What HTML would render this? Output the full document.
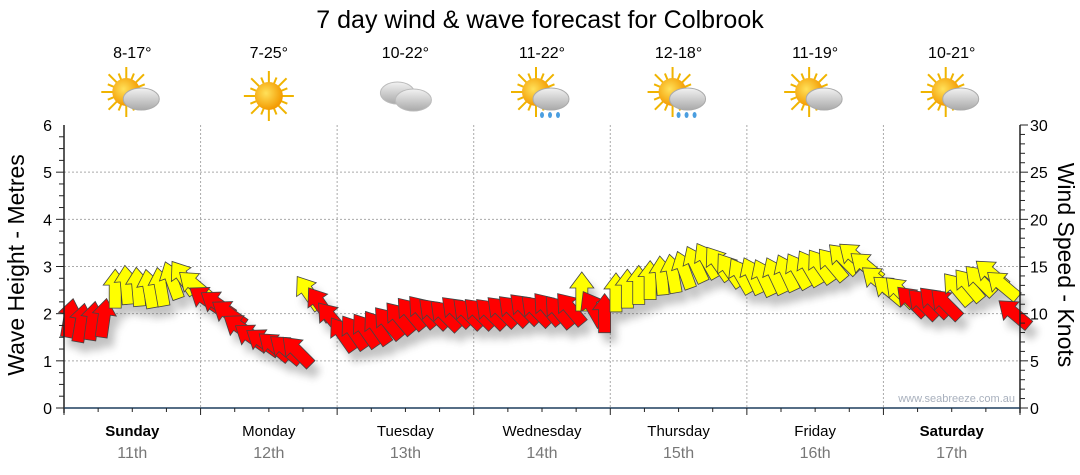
<!DOCTYPE html>
<html><head><meta charset="utf-8"><style>
body{margin:0;background:#fff;}
svg{display:block;font-family:"Liberation Sans",sans-serif;}
</style></head><body>
<svg id="c" width="1080" height="475" viewBox="0 0 1080 475">
<defs>
<filter id="sh" x="-50%" y="-50%" width="200%" height="200%"><feGaussianBlur stdDeviation="4"/></filter>
<radialGradient id="sun" cx="40%" cy="40%" r="60%"><stop offset="0" stop-color="#ffe15a"/><stop offset="1" stop-color="#f39a00"/></radialGradient>
<linearGradient id="cl" x1="0" y1="0" x2="0" y2="1"><stop offset="0" stop-color="#f2f2f2"/><stop offset="1" stop-color="#a9a9a9"/></linearGradient>
</defs>
<text x="540" y="28" text-anchor="middle" font-size="25" fill="#000">7 day wind &amp; wave forecast for Colbrook</text>
<g id="grid"></g><g id="icons"></g><g id="shadows" filter="url(#sh)" opacity="0.35"></g><g id="arrows"></g><g id="axes"></g>
<text transform="translate(24,265) rotate(-90)" text-anchor="middle" font-size="23">Wave Height - Metres</text>
<text transform="translate(1058,265) rotate(90)" text-anchor="middle" font-size="23">Wind Speed - Knots</text>
<text x="1015" y="402" text-anchor="end" font-size="11" fill="#a8b0bd">www.seabreeze.com.au</text>
</svg>
<script>
const days=["Sunday","Monday","Tuesday","Wednesday","Thursday","Friday","Saturday"];
const dates=["11th","12th","13th","14th","15th","16th","17th"];
const temps=["8-17°","7-25°","10-22°","11-22°","12-18°","11-19°","10-21°"];
const icons=["partly","sun","cloud","shower","shower","partly","partly"];
const waveTicks=[0,1,2,3,4,5,6];
const windTicks=[0,5,10,15,20,25,30];
const windSpeed=[9.5,9,9.2,9.5,12.6,13,12.8,12.6,12.8,13.5,13.8,13,
 11.5,11,10,8.5,7.5,7,6.5,6.2,6,12.2,11,9.5,
 7.8,8,8.2,8.5,9,9.5,10,10.2,10,9.8,10.2,10,
 10,10,10.2,10.3,10.5,10.3,10.5,10.2,10.5,12.3,10.5,10,
 12.2,12.6,13,13.5,14,14.2,14.6,15.2,15.6,15.3,14.6,14,
 14,13.8,14,14.3,14.5,14.8,15,15.2,15.8,16,15,13.5,
 12.5,12.3,11.3,11,11.2,11,12.6,13,13.5,14.2,13,10];
const windDir=[10,10,8,8,0,-5,-5,-10,-10,-20,-35,-50,
 -55,-55,-55,-55,-55,-55,-50,-50,-45,-35,-35,-40,
 -35,-35,-35,-35,-40,-40,-40,-40,-45,-45,-45,-45,
 -45,-45,-45,-45,-45,-45,-40,-40,-40,0,-30,0,
 0,0,0,0,-5,-10,-20,-25,-30,-35,-35,-30,
 -25,-25,-25,-25,-30,-30,-35,-40,-45,-50,-50,-50,
 -50,-45,-45,-45,-45,-45,-40,-40,-45,-50,-50,-50];
const NS="http://www.w3.org/2000/svg";
const X0=64,X1=1020,Y0=408,Y1=125,DW=(X1-X0)/7;
const yW=v=>Y0-(v/6)*(Y0-Y1);
const yK=k=>Y0-(k/30)*(Y0-Y1);
const xT=i=>X0+(i+0.5)*DW/12;
function mk(t,a,p){const e=document.createElementNS(NS,t);for(const k in a)e.setAttribute(k,a[k]);(p||document.getElementById('c')).appendChild(e);return e;}
const G=document.getElementById('grid'),A=document.getElementById('axes'),I=document.getElementById('icons');
waveTicks.forEach(v=>{if(v>0&&v<6){const l=mk('line',{x1:X0,x2:X1,y1:yW(v),y2:yW(v),stroke:'#aaa','stroke-dasharray':'2,2'},G);

}
const t=mk('text',{x:52,y:yW(v)+6,'text-anchor':'end','font-size':16},A);t.textContent=v;

});
windTicks.forEach(k=>{const t=mk('text',{x:1030,y:yK(k)+6,'font-size':16},A);t.textContent=k;

});
for(let q=0;q<24;q++){const y=yW(q/4);mk('line',{x1:X0-(q%4?5:8),x2:X0,y1:y,y2:y,stroke:'#222'},A);}
for(let k=0;k<=30;k++){const y=yK(k);mk('line',{x1:X1,x2:X1+(k%5?5:8),y1:y,y2:y,stroke:'#222'},A);}
mk('line',{x1:X0,x2:X0,y1:Y1,y2:Y0+5,stroke:'#222','stroke-width':1.5},A);
mk('line',{x1:X1,x2:X1,y1:Y1,y2:Y0+5,stroke:'#222','stroke-width':1.5},A);
mk('line',{x1:X0,x2:X1,y1:Y0,y2:Y0,stroke:'#1f3f5f','stroke-width':1.5},A);
for(let j=0;j<=28;j++){const x=X0+j*DW/4;mk('line',{x1:x,x2:x,y1:Y0,y2:Y0+(j%4?4:7),stroke:'#222'},A);}
days.forEach((d,i)=>{const cx=X0+(i+0.5)*DW;
if(i>0){const l=mk('line',{x1:X0+i*DW,x2:X0+i*DW,y1:Y1,y2:Y0,stroke:'#aaa','stroke-dasharray':'2,2'},G);

}
const bold=(i==0||i==6);
const t=mk('text',{x:cx,y:436,'text-anchor':'middle','font-size':15,'font-weight':bold?'bold':'normal'});t.textContent=d;


const t2=mk('text',{x:cx,y:458,'text-anchor':'middle','font-size':16,fill:'#777'});t2.textContent=dates[i];


const t3=mk('text',{x:cx,y:58,'text-anchor':'middle','font-size':16});t3.textContent=temps[i];


const g=mk('g',{transform:`translate(${cx},96)`},I);


const ic=icons[i];
if(ic!=='cloud'){const sx=ic==='sun'?0:-6,sy=ic==='sun'?0:-4;
for(let r=0;r<16;r++){const a=r*Math.PI/8,L=r%2?20:25;mk('line',{x1:sx,y1:sy,x2:sx+L*Math.cos(a),y2:sy+L*Math.sin(a),stroke:'#f0b400','stroke-width':2},g);}
mk('circle',{cx:sx,cy:sy,r:14,fill:'url(#sun)'},g);}
if(ic==='cloud'){mk('ellipse',{cx:-8,cy:-3,rx:17,ry:11,fill:'url(#cl)',stroke:'#bbb'},g);mk('ellipse',{cx:8,cy:4,rx:18,ry:11,fill:'url(#cl)',stroke:'#bbb'},g);}
else if(ic!=='sun'){mk('ellipse',{cx:9,cy:3,rx:18,ry:11,fill:'url(#cl)',stroke:'#aaa'},g);
if(ic==='shower'){[0,8,16].forEach(dx=>mk('ellipse',{cx:dx,cy:19,rx:2,ry:3,fill:'#4a9ee0'},g));}}
});
const S=document.getElementById('shadows'),AR=document.getElementById('arrows');
const shape="0,-20 12,-4 6,-4 6,19 -6,19 -6,-4 -12,-4";
windSpeed.forEach((k,i)=>{const x=xT(i),y=yK(k);
mk('polygon',{points:shape,transform:`translate(${x+6},${y+10}) rotate(${windDir[i]})`,fill:'#555'},S);
const p=mk('polygon',{points:shape,transform:`translate(${x},${y}) rotate(${windDir[i]})`,fill:k>=12?'#ffff00':'#ff0000',stroke:'#444','stroke-width':0.8},AR);

});
</script>
</body></html>
